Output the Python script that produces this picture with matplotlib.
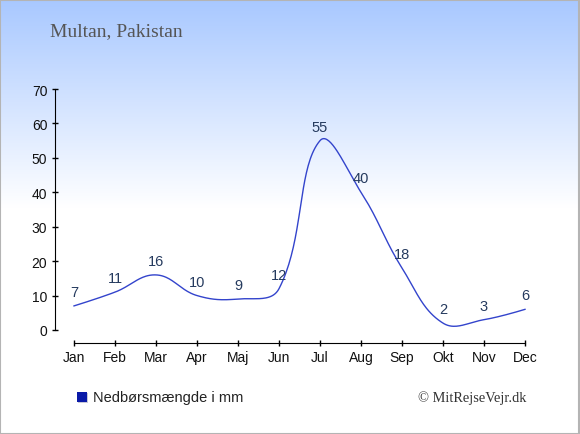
import numpy as np
import matplotlib
matplotlib.use("Agg")
import matplotlib.pyplot as plt
from matplotlib.patches import Rectangle

# data
months = ['Jan', 'Feb', 'Mar', 'Apr', 'Maj', 'Jun', 'Jul', 'Aug', 'Sep', 'Okt', 'Nov', 'Dec']
rain_mm = [7, 11, 16, 10, 9, 12, 55, 40, 18, 2, 3, 6]
yticks = [0, 10, 20, 30, 40, 50, 60, 70]
title = 'Multan, Pakistan'
legend_label = 'Nedbørsmængde i mm'
credit = '© MitRejseVejr.dk'

W, H = 580, 435
fig = plt.figure(figsize=(W / 100, H / 100), dpi=100)

# background gradient (light blue at the top, white further down)
bg = fig.add_axes([0, 0, 1, 1], zorder=-1)
rows = np.linspace(0, 1, H)
t = np.clip(rows / 0.48, 0, 1)
top = np.array([168, 200, 255]) / 255
grad = top[None, :] * (1 - t[:, None]) + np.ones(3)[None, :] * t[:, None]
bg.imshow(np.repeat(grad[:, None, :], 2, axis=1), aspect='auto',
          extent=[0, 1, 0, 1], origin='upper')
bg.add_patch(Rectangle((0.0008, 0.001), 0.9975, 0.9965, fill=False,
                       edgecolor='#b4b4b4', linewidth=1.5, transform=bg.transAxes))
bg.set_xlim(0, 1)
bg.set_ylim(0, 1)
bg.axis('off')


def smooth_curve(ax, xs, ys, tension=0.4, n=40):
    # bezier spline with control points computed in screen space
    pts = ax.transData.transform(np.column_stack([xs, ys]))
    m = len(pts)
    prev_cp = pts.copy()
    next_cp = pts.copy()
    for i in range(1, m - 1):
        p0, p1, p2 = pts[i - 1], pts[i], pts[i + 1]
        d01 = np.hypot(*(p1 - p0))
        d12 = np.hypot(*(p2 - p1))
        fa = tension * d01 / (d01 + d12)
        fb = tension * d12 / (d01 + d12)
        prev_cp[i] = p1 - fa * (p2 - p0)
        next_cp[i] = p1 + fb * (p2 - p0)
    s = np.linspace(0, 1, n)[:, None]
    out = [pts[:1]]
    for i in range(m - 1):
        a, b, c, d = pts[i], next_cp[i], prev_cp[i + 1], pts[i + 1]
        seg = ((1 - s) ** 3) * a + 3 * ((1 - s) ** 2) * s * b + 3 * (1 - s) * s ** 2 * c + s ** 3 * d
        out.append(seg[1:])
    out = np.vstack(out)
    data = ax.transData.inverted().transform(out)
    return data[:, 0], data[:, 1]


left, right = 55 / W, 525 / W
bottom, topy = (H - 331) / H, (H - 90) / H
ax = fig.add_axes([left, bottom, right - left, topy - bottom])
ax.patch.set_alpha(0)

x = np.arange(len(months))
ax.set_xlim(-19 / 41, 11)
ax.set_ylim(0, 70)

sx, sy = smooth_curve(ax, x, rain_mm)
ax.plot(sx, sy, color='#3344cc', linewidth=1.0, clip_on=False)

for xi, v in zip(x, rain_mm):
    ax.annotate(str(v), (xi, v), xytext=(0, 5), textcoords='offset points',
                ha='center', va='bottom', fontsize=10.5, color='#253a5e',
                family='Liberation Sans')

ax.set_xticks(x)
ax.set_xticklabels(months)
ax.set_yticks(yticks)

for s in ['top', 'right']:
    ax.spines[s].set_visible(False)
ax.spines['bottom'].set_position(('outward', 9))
ax.spines['bottom'].set_bounds(0, 11)
ax.spines['left'].set_bounds(0, 70)
ax.tick_params(axis='both', direction='inout', length=5, width=1,
               labelsize=10, colors='black', pad=3)
for lab in ax.get_xticklabels() + ax.get_yticklabels():
    lab.set_family('Liberation Sans')
    lab.set_color('#111111')

fig.text(50 / W, 1 - 32 / H, title, family='Liberation Serif', fontsize=14,
         color='#555555', ha='left', va='center')

# legend marker + text
fig.patches.append(Rectangle((78 / W, 1 - 404 / H), 10 / W, 10 / H,
                             transform=fig.transFigure, facecolor='#c8c8d8',
                             edgecolor='none'))
fig.patches.append(Rectangle((77 / W, 1 - 403 / H), 10 / W, 10 / H,
                             transform=fig.transFigure, facecolor='#0a1aa8',
                             edgecolor='none'))
fig.text(93 / W, 1 - 398 / H, legend_label, family='Liberation Sans',
         fontsize=10.5, color='#222222', ha='left', va='center')
fig.text(526 / W, 1 - 398 / H, credit, family='Liberation Serif',
         fontsize=10.4, color='#333333', ha='right', va='center')

fig.savefig('out.png', dpi=100)
